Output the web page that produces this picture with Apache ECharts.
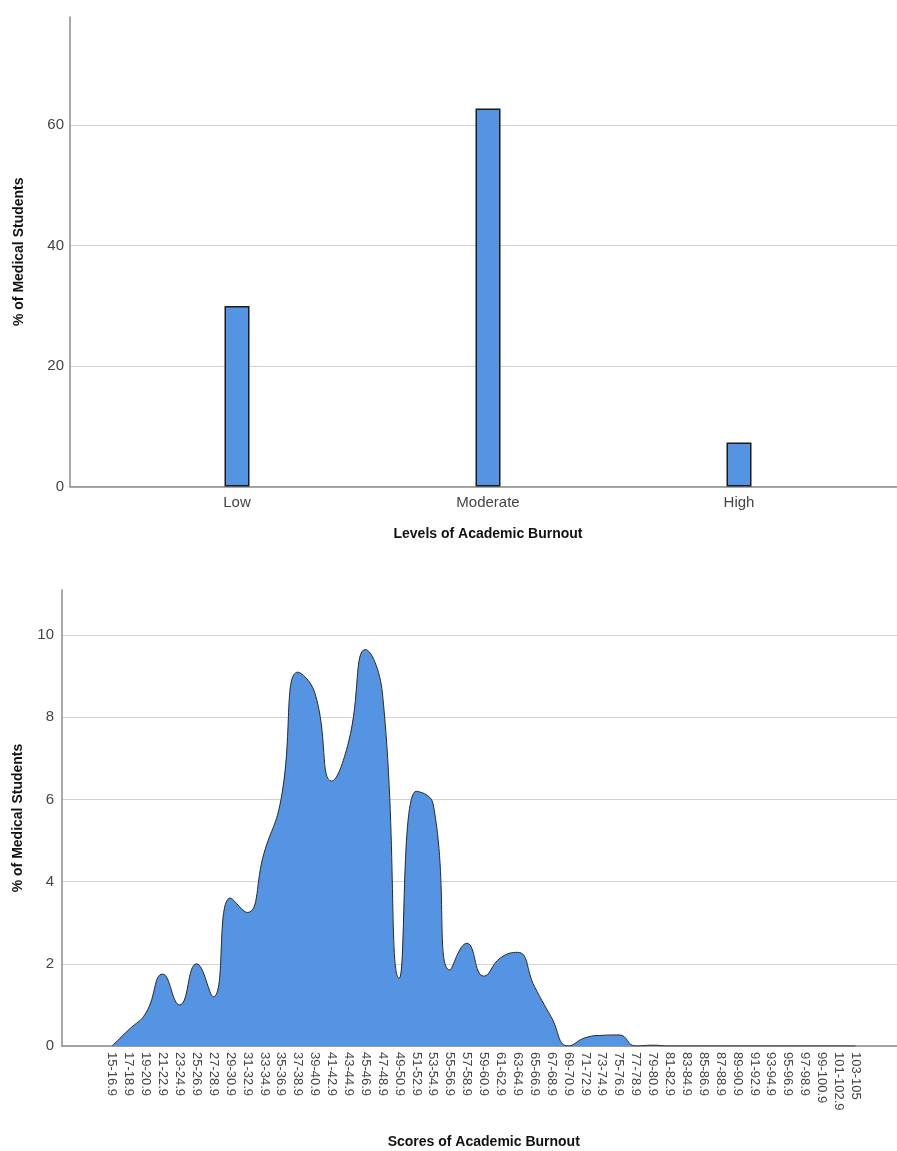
<!DOCTYPE html>
<html>
<head>
<meta charset="utf-8">
<script src="https://cdn.jsdelivr.net/npm/echarts@6/dist/echarts.min.js"></script>
<style>
html,body{margin:0;padding:0;background:#fff;}
#c{width:897px;height:1151px;}
</style>
</head>
<body>
<div id="c"></div>
<script>
// ---- Data ----
var levelCategories = ['Low', 'Moderate', 'High'];
var levelValues = [30.0, 62.8, 7.3];

var scoreCategories = ['15-16.9','17-18.9','19-20.9','21-22.9','23-24.9','25-26.9','27-28.9','29-30.9',
  '31-32.9','33-34.9','35-36.9','37-38.9','39-40.9','41-42.9','43-44.9','45-46.9','47-48.9','49-50.9',
  '51-52.9','53-54.9','55-56.9','57-58.9','59-60.9','61-62.9','63-64.9','65-66.9','67-68.9','69-70.9',
  '71-72.9','73-74.9','75-76.9','77-78.9','79-80.9','81-82.9','83-84.9','85-86.9','87-88.9','89-90.9',
  '91-92.9','93-94.9','95-96.9','97-98.9','99-100.9','101-102.9','103-105'];
var scoreValues = [0, 0.4, 0.8, 1.75, 1.0, 2.0, 1.2, 3.6, 3.25, 4.7, 6.0, 9.1, 8.6, 6.45, 7.4, 9.65, 8.6, 1.65,
  6.2, 5.9, 1.85, 2.5, 1.7, 2.15, 2.28, 1.45, 0.7, 0, 0.2, 0.26, 0.27, 0, 0.02, 0, 0, 0, 0, 0,
  0, 0, 0, 0, 0, 0, 0];

var topYTicks = {min: 0, max: 78, interval: 20};
var botYTicks = {min: 0, max: 11.1, interval: 2};

// ---- Styles ----
var FONT = 'Liberation Sans, Arial, sans-serif';
var FILL = '#5494e3';
var GRID_LINE = '#d2d2d2';
var AXIS_LINE = '#8c8c8c';
var LABEL = '#444';

var chart = echarts.init(document.getElementById('c'), null, {renderer: 'canvas'});

var nameStyle = {fontFamily: FONT, fontSize: 14, fontWeight: 'bold', color: '#111'};

var option = {
  animation: false,
  grid: [
    {left: 70, top: 17, width: 827, height: 469.5},          // top background
    {left: 111.5, top: 17, width: 753, height: 469.5},       // top bars
    {left: 62, top: 590, width: 835, height: 456},           // bottom background
    {left: 112, top: 590, width: 743.5, height: 456}         // bottom area
  ],
  xAxis: [
    {gridIndex: 0, type: 'category', data: [''], axisLine: {lineStyle: {color: AXIS_LINE, width: 1.5}},
     axisTick: {show: false}, axisLabel: {show: false}, splitLine: {show: false}},
    {gridIndex: 1, type: 'category', data: levelCategories,
     axisLine: {show: false}, axisTick: {show: false},
     axisLabel: {fontFamily: FONT, fontSize: 15, color: LABEL, margin: 9},
     name: 'Levels of Academic Burnout', nameLocation: 'middle', nameGap: 41, nameTextStyle: nameStyle},
    {gridIndex: 2, type: 'category', data: [''], axisLine: {lineStyle: {color: AXIS_LINE, width: 1.5}},
     axisTick: {show: false}, axisLabel: {show: false}, splitLine: {show: false}},
    {gridIndex: 3, type: 'category', data: scoreCategories, boundaryGap: false,
     axisLine: {show: false}, axisTick: {show: false},
     axisLabel: {fontFamily: FONT, fontSize: 13, color: LABEL, rotate: -90, margin: 6, interval: 0},
     name: 'Scores of Academic Burnout', nameLocation: 'middle', nameGap: 89, nameTextStyle: nameStyle}
  ],
  yAxis: [
    {gridIndex: 0, type: 'value', min: topYTicks.min, max: topYTicks.max, interval: topYTicks.interval,
     axisLine: {show: true, lineStyle: {color: AXIS_LINE, width: 1.5}}, axisTick: {show: false},
     axisLabel: {fontFamily: FONT, fontSize: 15, color: LABEL, margin: 6, showMaxLabel: false},
     splitLine: {show: true, showMaxLine: false, lineStyle: {color: GRID_LINE, width: 1.2}},
     name: '% of Medical Students', nameLocation: 'middle', nameGap: 44, nameTextStyle: nameStyle},
    {gridIndex: 1, type: 'value', min: topYTicks.min, max: topYTicks.max, show: false},
    {gridIndex: 2, type: 'value', min: botYTicks.min, max: botYTicks.max, interval: botYTicks.interval,
     axisLine: {show: true, lineStyle: {color: AXIS_LINE, width: 1.5}}, axisTick: {show: false},
     axisLabel: {fontFamily: FONT, fontSize: 15, color: LABEL, margin: 8, showMaxLabel: false},
     splitLine: {show: true, showMaxLine: false, lineStyle: {color: GRID_LINE, width: 1.2}},
     name: '% of Medical Students', nameLocation: 'middle', nameGap: 37, nameTextStyle: nameStyle},
    {gridIndex: 3, type: 'value', min: botYTicks.min, max: botYTicks.max, show: false}
  ],
  series: [
    {type: 'bar', xAxisIndex: 1, yAxisIndex: 1, data: levelValues, barWidth: 25,
     itemStyle: {color: FILL, borderColor: '#1a1a1a', borderWidth: 1.5}},
    {type: 'line', xAxisIndex: 3, yAxisIndex: 3, data: scoreValues, smooth: 0.5,
     symbol: 'none', lineStyle: {color: '#2a2a2a', width: 1},
     areaStyle: {color: FILL, opacity: 1}}
  ]
};
chart.setOption(option);
</script>
</body>
</html>
